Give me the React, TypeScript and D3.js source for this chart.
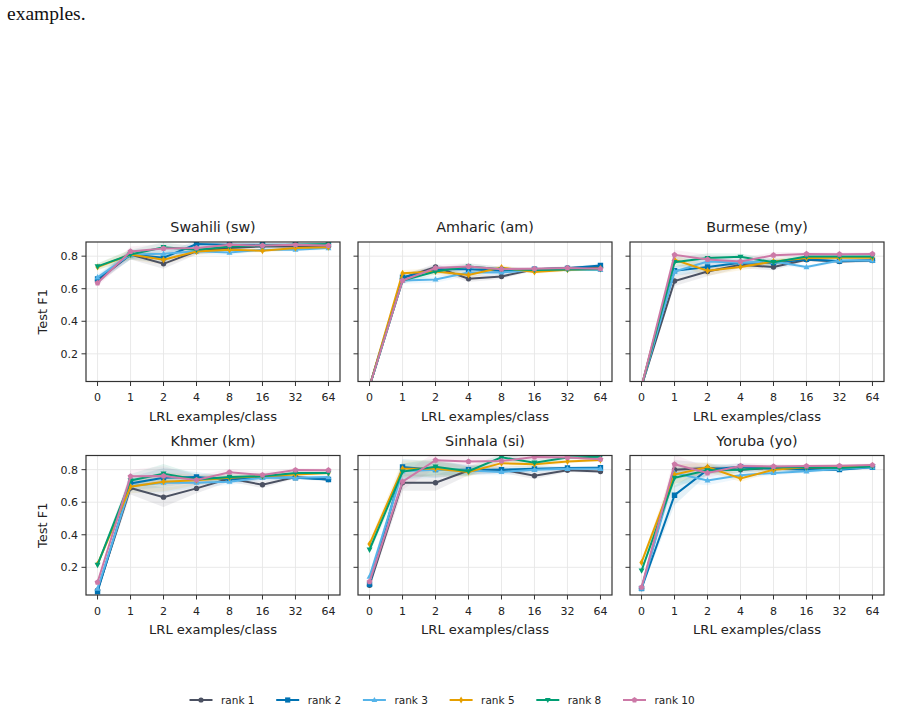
import { useCallback, useEffect, useRef } from 'react';

import { area, line, scaleLinear, scalePoint, select } from 'd3';

const xLabels = ['0', '1', '2', '4', '8', '16', '32', '64'];
const rankNames = ['rank 1', 'rank 2', 'rank 3', 'rank 5', 'rank 8', 'rank 10'];
const rankColors = ['#4b5162', '#0072b2', '#56b4e9', '#e69f00', '#009e73', '#cc79a7'];
const rankMarkers = ['circle', 'square', 'triangleUp', 'diamond', 'triangleDown', 'pentagon'];
const yTicks = [0.2, 0.4, 0.6, 0.8];
const languages = ['Swahili (sw)', 'Amharic (am)', 'Burmese (my)', 'Khmer (km)', 'Sinhala (si)', 'Yoruba (yo)'];

// mean test F1, one row per rank
const swahiliF1 = [
  [0.65, 0.81, 0.753, 0.83, 0.85, 0.86, 0.86, 0.86],
  [0.66, 0.81, 0.79, 0.875, 0.87, 0.87, 0.87, 0.87],
  [0.67, 0.81, 0.815, 0.83, 0.822, 0.84, 0.84, 0.85],
  [0.733, 0.81, 0.778, 0.829, 0.84, 0.833, 0.85, 0.855],
  [0.737, 0.81, 0.855, 0.84, 0.86, 0.865, 0.87, 0.875],
  [0.635, 0.829, 0.847, 0.85, 0.87, 0.865, 0.87, 0.865],
];
const amharicF1 = [
  [0.0, 0.665, 0.733, 0.661, 0.675, 0.72, 0.727, 0.733],
  [0.0, 0.67, 0.72, 0.72, 0.71, 0.72, 0.725, 0.743],
  [0.0, 0.65, 0.657, 0.7, 0.7, 0.715, 0.72, 0.716],
  [0.0, 0.695, 0.706, 0.684, 0.73, 0.702, 0.716, 0.724],
  [0.0, 0.65, 0.706, 0.737, 0.72, 0.715, 0.718, 0.72],
  [0.0, 0.65, 0.727, 0.737, 0.72, 0.722, 0.727, 0.722],
];
const burmeseF1 = [
  [0.0, 0.647, 0.706, 0.747, 0.733, 0.778, 0.767, 0.773],
  [0.0, 0.71, 0.733, 0.76, 0.76, 0.78, 0.77, 0.775],
  [0.0, 0.706, 0.767, 0.76, 0.767, 0.733, 0.773, 0.773],
  [0.0, 0.778, 0.71, 0.733, 0.767, 0.788, 0.79, 0.79],
  [0.0, 0.763, 0.788, 0.796, 0.763, 0.798, 0.798, 0.798],
  [0.0, 0.808, 0.78, 0.767, 0.806, 0.814, 0.812, 0.814],
];
const khmerF1 = [
  [0.06, 0.687, 0.631, 0.685, 0.745, 0.707, 0.755, 0.74],
  [0.05, 0.715, 0.75, 0.755, 0.74, 0.755, 0.75, 0.74],
  [0.07, 0.7, 0.72, 0.72, 0.726, 0.75, 0.75, 0.755],
  [0.22, 0.695, 0.726, 0.735, 0.75, 0.76, 0.77, 0.78],
  [0.215, 0.734, 0.775, 0.74, 0.755, 0.76, 0.78, 0.78],
  [0.108, 0.759, 0.761, 0.736, 0.784, 0.767, 0.798, 0.797],
];
const sinhalaF1 = [
  [0.09, 0.72, 0.72, 0.795, 0.8, 0.763, 0.796, 0.788],
  [0.095, 0.816, 0.8, 0.8, 0.8, 0.805, 0.81, 0.812],
  [0.143, 0.79, 0.8, 0.795, 0.786, 0.8, 0.805, 0.805],
  [0.343, 0.806, 0.806, 0.786, 0.84, 0.833, 0.85, 0.86],
  [0.308, 0.788, 0.818, 0.79, 0.876, 0.843, 0.874, 0.88],
  [0.112, 0.726, 0.858, 0.85, 0.853, 0.878, 0.875, 0.864],
];
const yorubaF1 = [
  [0.07, 0.8, 0.81, 0.8, 0.81, 0.81, 0.81, 0.82],
  [0.07, 0.643, 0.8, 0.818, 0.805, 0.8, 0.8, 0.815],
  [0.07, 0.78, 0.734, 0.765, 0.78, 0.79, 0.805, 0.815],
  [0.23, 0.77, 0.816, 0.746, 0.8, 0.815, 0.815, 0.825],
  [0.18, 0.75, 0.796, 0.8, 0.815, 0.815, 0.81, 0.82],
  [0.077, 0.833, 0.78, 0.823, 0.82, 0.822, 0.824, 0.828],
];

// half-width of the shaded spread at each x
const swahiliSpread = [0.02, 0.03, 0.03, 0.02, 0.015, 0.01, 0.01, 0.01];
const amharicSpread = [0.0, 0.02, 0.02, 0.02, 0.015, 0.01, 0.01, 0.01];
const burmeseSpread = [0.0, 0.03, 0.03, 0.02, 0.02, 0.01, 0.01, 0.01];
const khmerSpread = [0.01, 0.04, 0.06, 0.03, 0.02, 0.02, 0.01, 0.01];
const sinhalaSpread = [0.02, 0.05, 0.05, 0.03, 0.02, 0.02, 0.01, 0.01];
const yorubaSpread = [0.01, 0.06, 0.03, 0.02, 0.015, 0.01, 0.01, 0.01];

const panelValues = [swahiliF1, amharicF1, burmeseF1, khmerF1, sinhalaF1, yorubaF1];
const panelSpreads = [swahiliSpread, amharicSpread, burmeseSpread, khmerSpread, sinhalaSpread, yorubaSpread];

const FONT = 'DejaVu Sans, sans-serif';

function markerPath(kind: string, r: number) {
  switch (kind) {
    case 'square':
      return `M${-r},${-r}H${r}V${r}H${-r}Z`;
    case 'triangleUp':
      return `M0,${-r * 1.2}L${r * 1.1},${r * 0.8}L${-r * 1.1},${r * 0.8}Z`;
    case 'triangleDown':
      return `M0,${r * 1.2}L${r * 1.1},${-r * 0.8}L${-r * 1.1},${-r * 0.8}Z`;
    case 'diamond':
      return `M0,${-r * 1.3}L${r * 0.8},0L0,${r * 1.3}L${-r * 0.8},0Z`;
    case 'pentagon': {
      const pts = [0, 1, 2, 3, 4].map((i) => {
        const a = -Math.PI / 2 + (i * 2 * Math.PI) / 5;
        return `${(Math.cos(a) * r * 1.15).toFixed(2)},${(Math.sin(a) * r * 1.15).toFixed(2)}`;
      });
      return `M${pts.join('L')}Z`;
    }
    default:
      return `M${r},0A${r},${r} 0 1,1 ${-r},0A${r},${r} 0 1,1 ${r},0Z`;
  }
}

export default function App() {
  const containerRef = useRef<HTMLDivElement>(null);

  const initChart = useCallback(() => {
    const container = containerRef.current;
    if (!container) return;

    const width = 901,
      height = 710;
    const colX = [86, 358, 630];
    const rowY = [242, 455.5];
    const pw = 254,
      ph = 139.5;

    const div = select(container);
    div.select('svg').remove();

    const svg = div
      .append('svg')
      .attr('width', width)
      .attr('height', height)
      .style('display', 'block')
      .style('background', '#fff');

    // caption tail from the page above the figure
    svg
      .append('text')
      .attr('x', 7)
      .attr('y', 20)
      .attr('font-family', 'Liberation Serif, Times New Roman, serif')
      .attr('font-size', 19.5)
      .attr('fill', '#111')
      .text('examples.');

    const x = scalePoint<string>().domain(xLabels).range([0, pw]).padding(0.35);
    const y = scaleLinear().domain([0.03, 0.887]).range([ph, 0]);

    const defs = svg.append('defs');

    languages.forEach((lang, p) => {
      const col = p % 3;
      const row = Math.floor(p / 3);
      const values = panelValues[p];
      const spread = panelSpreads[p];

      const g = svg
        .append('g')
        .attr('class', 'panel')
        .attr('transform', `translate(${colX[col]},${rowY[row]})`);

      defs
        .append('clipPath')
        .attr('id', `clip-${p}`)
        .append('rect')
        .attr('width', pw)
        .attr('height', ph);

      // grid
      g.append('g')
        .selectAll('line')
        .data(xLabels)
        .join('line')
        .attr('x1', (d) => x(d) || 0)
        .attr('x2', (d) => x(d) || 0)
        .attr('y1', 0)
        .attr('y2', ph)
        .attr('stroke', '#e6e6e6')
        .attr('stroke-width', 0.9);
      g.append('g')
        .selectAll('line')
        .data(yTicks)
        .join('line')
        .attr('x1', 0)
        .attr('x2', pw)
        .attr('y1', (d) => y(d))
        .attr('y2', (d) => y(d))
        .attr('stroke', '#e6e6e6')
        .attr('stroke-width', 0.9);

      const plot = g.append('g').attr('clip-path', `url(#clip-${p})`);

      // spread bands
      const band = area<number>()
        .x((_, i) => x(xLabels[i]) || 0)
        .y0((d, i) => y(d - spread[i]))
        .y1((d, i) => y(d + spread[i]));
      values.forEach((series, r) => {
        plot
          .append('path')
          .attr('d', band(series))
          .attr('fill', rankColors[r])
          .attr('fill-opacity', 0.1)
          .attr('stroke', 'none');
      });

      const path = line<number>()
        .x((_, i) => x(xLabels[i]) || 0)
        .y((d) => y(d));

      values.forEach((series, r) => {
        const s = plot.append('g').attr('class', `series-${r}`);
        s.append('path')
          .attr('d', path(series))
          .attr('fill', 'none')
          .attr('stroke', rankColors[r])
          .attr('stroke-width', 2);
        s.selectAll('path.marker')
          .data(series)
          .join('path')
          .attr('class', 'marker')
          .attr('d', markerPath(rankMarkers[r], 2.7))
          .attr('transform', (d, i) => `translate(${x(xLabels[i])},${y(d)})`)
          .attr('fill', rankColors[r]);
      });

      // frame
      g.append('rect')
        .attr('width', pw)
        .attr('height', ph)
        .attr('fill', 'none')
        .attr('stroke', '#333')
        .attr('stroke-width', 1.2);

      // x ticks
      const xt = g
        .append('g')
        .attr('transform', `translate(0,${ph})`)
        .selectAll('g')
        .data(xLabels)
        .join('g')
        .attr('transform', (d) => `translate(${x(d)},0)`);
      xt.append('line').attr('y2', 4.5).attr('stroke', '#333').attr('stroke-width', 1);
      xt.append('text')
        .attr('y', 16)
        .attr('dy', '0.35em')
        .attr('text-anchor', 'middle')
        .attr('font-family', FONT)
        .attr('font-size', 11)
        .attr('fill', '#222')
        .text((d) => d);

      // y ticks
      const yt = g
        .append('g')
        .selectAll('g')
        .data(yTicks)
        .join('g')
        .attr('transform', (d) => `translate(0,${y(d)})`);
      yt.append('line').attr('x2', -4.5).attr('stroke', '#333').attr('stroke-width', 1);
      if (col === 0) {
        yt.append('text')
          .attr('x', -8)
          .attr('dy', '0.35em')
          .attr('text-anchor', 'end')
          .attr('font-family', FONT)
          .attr('font-size', 11)
          .attr('fill', '#222')
          .text((d) => d.toFixed(1));
        g.append('text')
          .attr('transform', `translate(-44,${ph / 2}) rotate(-90)`)
          .attr('dy', '0.35em')
          .attr('text-anchor', 'middle')
          .attr('font-family', FONT)
          .attr('font-size', 13)
          .attr('fill', '#222')
          .text('Test F1');
      }

      // titles and x label
      g.append('text')
        .attr('x', pw / 2)
        .attr('y', -14.8)
        .attr('dy', '0.35em')
        .attr('text-anchor', 'middle')
        .attr('font-family', FONT)
        .attr('font-size', 14.3)
        .attr('fill', '#222')
        .text(lang);
      g.append('text')
        .attr('x', pw / 2)
        .attr('y', ph + 34.5)
        .attr('dy', '0.35em')
        .attr('text-anchor', 'middle')
        .attr('font-family', FONT)
        .attr('font-size', 13.1)
        .attr('fill', '#222')
        .text('LRL examples/class');
    });

    // legend
    const legend = svg
      .append('g')
      .attr('class', 'legend')
      .attr('transform', 'translate(189.5,700)');
    const item = legend
      .selectAll('g')
      .data(rankNames)
      .join('g')
      .attr('transform', (_, i) => `translate(${i * 86.7},0)`);
    item
      .append('line')
      .attr('x1', 0)
      .attr('x2', 23)
      .attr('stroke', (_, i) => rankColors[i])
      .attr('stroke-width', 2);
    item
      .append('path')
      .attr('d', (_, i) => markerPath(rankMarkers[i], 2.6))
      .attr('transform', 'translate(11.5,0)')
      .attr('fill', (_, i) => rankColors[i]);
    item
      .append('text')
      .attr('x', 31.5)
      .attr('dy', '0.35em')
      .attr('font-family', FONT)
      .attr('font-size', 10.5)
      .attr('fill', '#222')
      .text((d) => d);
  }, []);

  const destroyChart = useCallback(() => {
    const container = containerRef.current;
    if (!container) return;

    select(container).select('svg').remove();
  }, []);

  useEffect(() => {
    initChart();
    return destroyChart;
  }, [destroyChart, initChart]);

  return (
    <div
      ref={containerRef}
      style={{ position: 'absolute', left: 0, top: 0, background: '#fff' }}
    />
  );
}
